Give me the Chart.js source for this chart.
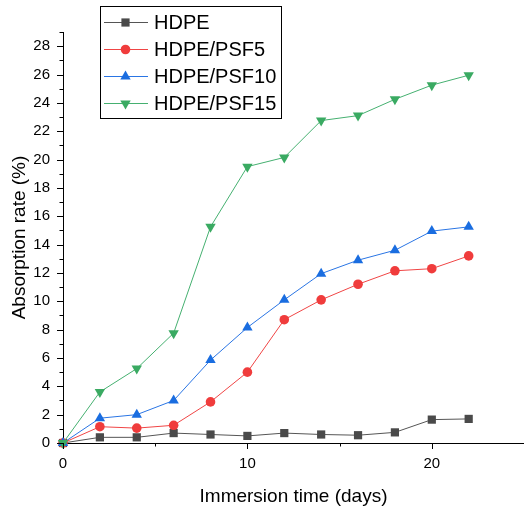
<!DOCTYPE html>
<html>
<head>
<meta charset="utf-8">
<script src="https://cdn.jsdelivr.net/npm/chart.js@4.4.1/dist/chart.umd.min.js"></script>
<style>
  html, body { margin: 0; padding: 0; background: #fff; overflow: hidden; }
  canvas { display: block; }
</style>
</head>
<body>
<canvas id="chart" width="524" height="509"></canvas>
<script>
// Datos
const days = [0, 2, 4, 6, 8, 10, 12, 14, 16, 18, 20, 22];
const hdpe = [0, 0.4, 0.4, 0.7, 0.6, 0.5, 0.7, 0.6, 0.55, 0.75, 1.65, 1.7];
const psf5 = [0, 1.15, 1.05, 1.25, 2.9, 5.0, 8.7, 10.1, 11.2, 12.15, 12.3, 13.2];
const psf10 = [0, 1.75, 2.0, 3.0, 5.85, 8.15, 10.1, 11.95, 12.9, 13.6, 14.95, 15.25];
const psf15 = [0, 3.6, 5.25, 7.75, 15.25, 19.5, 20.15, 22.75, 23.1, 24.25, 25.25, 25.95];
const seriesNames = ["HDPE", "HDPE/PSF5", "HDPE/PSF10", "HDPE/PSF15"];
const xTitle = "Immersion time (days)";
const yTitle = "Absorption rate (%)";

const FONT = "'Liberation Sans', Arial, sans-serif";

function toPoints(values) {
  return values.map((v, i) => ({ x: days[i], y: v }));
}

const styles = [
  { line: "#555555", fill: "#4a4a4a", pointStyle: "rect", radius: 5.8, rotation: 0 },
  { line: "#f04545", fill: "#f03c3c", pointStyle: "circle", radius: 4.8, rotation: 0 },
  { line: "#2a75e4", fill: "#1a6de0", pointStyle: "triangle", radius: 6, rotation: 0 },
  { line: "#45b070", fill: "#3aaa62", pointStyle: "triangle", radius: 6, rotation: 180 }
];

const datasets = [hdpe, psf5, psf10, psf15].map((vals, i) => ({
  label: seriesNames[i],
  data: toPoints(vals),
  borderColor: styles[i].line,
  borderWidth: 1,
  pointBackgroundColor: styles[i].fill,
  pointBorderColor: styles[i].fill,
  pointBorderWidth: 0,
  pointStyle: styles[i].pointStyle,
  pointRadius: styles[i].radius,
  pointRotation: styles[i].rotation,
  tension: 0,
  clip: false,
  order: 3 - i
}));

// Marcas de los ejes (mayores y menores, hacia fuera)
const axisTicks = {
  id: "axisTicks",
  afterDraw(chart) {
    const ctx = chart.ctx;
    const x = chart.scales.x;
    const y = chart.scales.y;
    const area = chart.chartArea;
    ctx.save();
    ctx.strokeStyle = "#000";
    ctx.lineWidth = 1;
    ctx.beginPath();
    for (let v = 0; v <= 29; v++) {
      const py = Math.round(y.getPixelForValue(v)) + 0.5;
      const len = v % 2 === 0 ? 6 : 3.5;
      ctx.moveTo(area.left, py);
      ctx.lineTo(area.left - len, py);
    }
    for (let v = 0; v <= 25; v += 5) {
      const px = Math.round(x.getPixelForValue(v)) + 0.5;
      const len = v % 10 === 0 ? 6 : 3.5;
      ctx.moveTo(px, area.bottom);
      ctx.lineTo(px, area.bottom + len);
    }
    ctx.stroke();
    ctx.restore();
  }
};

// Leyenda con línea y marcador, como en el original
const boxLegend = {
  id: "boxLegend",
  afterDraw(chart) {
    const ctx = chart.ctx;
    ctx.save();
    ctx.strokeStyle = "#000";
    ctx.lineWidth = 1;
    ctx.strokeRect(100.5, 6.5, 181, 112);
    const rows = [22.5, 49.5, 76.5, 103.5];
    rows.forEach((ry, i) => {
      const st = styles[i];
      ctx.strokeStyle = st.line;
      ctx.lineWidth = 1;
      ctx.beginPath();
      ctx.moveTo(104, ry);
      ctx.lineTo(148, ry);
      ctx.stroke();
      ctx.fillStyle = st.fill;
      Chart.helpers.drawPoint(ctx, {
        pointStyle: st.pointStyle,
        radius: st.radius,
        rotation: st.rotation,
        borderWidth: 0
      }, 125.5, ry);
      ctx.fillStyle = "#000";
      ctx.font = "20px " + FONT;
      ctx.textBaseline = "middle";
      ctx.textAlign = "left";
      ctx.fillText(seriesNames[i], 154, ry + 1);
    });
    ctx.restore();
  }
};

new Chart(document.getElementById("chart"), {
  type: "line",
  data: { datasets: datasets },
  options: {
    responsive: false,
    animation: false,
    layout: { autoPadding: false, padding: { top: 32, right: 0, left: 0, bottom: 0 } },
    plugins: {
      legend: { display: false },
      tooltip: { enabled: false }
    },
    scales: {
      x: {
        type: "linear",
        min: 0,
        max: 25,
        grid: { display: false, drawTicks: false },
        border: { display: true, color: "#000", width: 1 },
        ticks: {
          stepSize: 10,
          includeBounds: false,
          padding: 12,
          color: "#000",
          font: { family: FONT, size: 15 },
          maxRotation: 0
        },
        title: {
          display: true,
          text: xTitle,
          color: "#000",
          font: { family: FONT, size: 19 },
          padding: { top: 0, bottom: 1 }
        },
        afterFit(scale) {
          scale.height = 66;
          scale.paddingLeft = 0;
          scale.paddingRight = 0;
        }
      },
      y: {
        min: 0,
        max: 29,
        grid: { display: false, drawTicks: false },
        border: { display: true, color: "#000", width: 1 },
        ticks: {
          stepSize: 2,
          includeBounds: false,
          padding: 13,
          color: "#000",
          font: { family: FONT, size: 15 }
        },
        title: {
          display: true,
          text: yTitle,
          color: "#000",
          font: { family: FONT, size: 19 },
          padding: { top: 8, bottom: 0 }
        },
        afterFit(scale) {
          scale.width = 63;
          scale.paddingTop = 0;
          scale.paddingBottom = 0;
        }
      }
    }
  },
  plugins: [axisTicks, boxLegend]
});
</script>
</body>
</html>
